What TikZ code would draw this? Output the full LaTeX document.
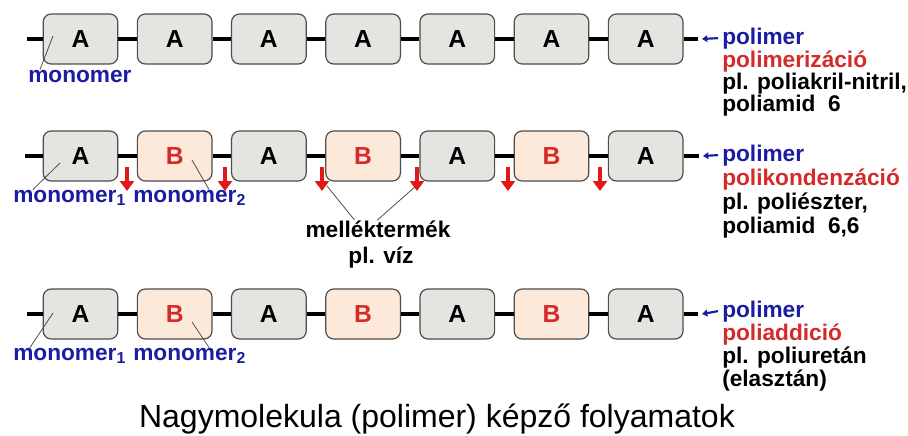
\documentclass[tikz,border=0pt]{standalone}
\usepackage{fontspec}
\setmainfont{Liberation Sans}
\usepackage{xcolor}
\usepackage{tikz}
\usetikzlibrary{arrows.meta}
\definecolor{boxgray}{HTML}{E3E5E1}
\definecolor{boxpeach}{HTML}{FDE9D9}
\definecolor{frame}{HTML}{4D4D4D}
\definecolor{mono}{HTML}{1C1CA0}
\definecolor{proc}{HTML}{D42A2A}
\definecolor{drip}{HTML}{E01818}

\begin{document}
\begin{tikzpicture}[
    x=0.75pt, y=-0.75pt,
    unit/.style={draw=frame, line width=0.9pt, rounded corners=6pt, minimum width=56pt,
                 minimum height=37.5pt, inner sep=0pt, font=\fontsize{18.5}{20}\selectfont\bfseries},
    unitA/.style={unit, fill=boxgray},
    unitB/.style={unit, fill=boxpeach, text=proc},
    link/.style={line width=2.4pt},
    drop/.style={draw=drip, line width=3.5pt, -{Triangle[width=10.5pt,length=7.5pt]}},
    ptr/.style={draw=mono, line width=1.6pt, -{Triangle[length=4pt,width=5pt]}},
    pointer/.style={draw=frame, line width=0.6pt},
    lbl/.style={anchor=base west, inner sep=0pt, font=\fontsize{17}{20}\selectfont\bfseries},
    midlbl/.style={anchor=base, inner sep=0pt, font=\fontsize{17}{20}\selectfont\bfseries}
  ]
    \useasboundingbox (0,0) rectangle (908,436);

    % polimerizacio
    \node[unitA] (m1) at (80.5,39) {A};
    \node[unitA] (m2) at (174.7,39) {A};
    \node[unitA] (m3) at (268.9,39) {A};
    \node[unitA] (m4) at (363.1,39) {A};
    \node[unitA] (m5) at (457.3,39) {A};
    \node[unitA] (m6) at (551.5,39) {A};
    \node[unitA] (m7) at (645.7,39) {A};
    \coordinate (ms) at (27,39);
    \coordinate (me) at (698,39);
    \draw[link] (ms) -- (m1) -- (m2) -- (m3) -- (m4) -- (m5) -- (m6) -- (m7) -- (me);

    \node[lbl, text=mono] (mpol) at (722,44) {polimer};
    \node[lbl, text=proc] (mproc) at (722,67) {polimerizáció};
    \node[lbl] (mex1) at (722,89) {pl. poliakril-nitril,};
    \node[lbl] (mex2) at (722,111) {poliamid~~6};
    \draw[ptr] ([xshift=-3pt]mpol.west) -- ([xshift=3pt]me);

    \node[lbl, text=mono] (mlab) at (28,82) {monomer};
    \coordinate (mtip) at (53,36);
    \draw[pointer] ([xshift=9pt]mlab.north west) -- (mtip);

    % polikondenzacio
    \node[unitA] (k1) at (80.5,156) {A};
    \node[unitB] (k2) at (174.7,156) {B};
    \node[unitA] (k3) at (268.9,156) {A};
    \node[unitB] (k4) at (363.1,156) {B};
    \node[unitA] (k5) at (457.3,156) {A};
    \node[unitB] (k6) at (551.5,156) {B};
    \node[unitA] (k7) at (645.7,156) {A};
    \coordinate (ks) at (25,156);
    \coordinate (ke) at (699,156);
    \draw[link] (ks) -- (k1) -- (k2) -- (k3) -- (k4) -- (k5) -- (k6) -- (k7) -- (ke);
    \foreach \x in {127,225,322,417,508,600}
      \draw[drop] (\x,167) -- (\x,191);

    \node[lbl, text=mono] (kpol) at (722,161) {polimer};
    \node[lbl, text=proc] (kproc) at (722,185) {polikondenzáció};
    \node[lbl] (kex1) at (722,209) {pl. poliészter,};
    \node[lbl] (kex2) at (722,233) {poliamid~~6,6};
    \draw[ptr] ([xshift=-3pt]kpol.west) -- ([xshift=3pt]ke);

    \node[lbl, text=mono] (klab1) at (13,202) {monomer\textsubscript{1}};
    \node[lbl, text=mono] (klab2) at (133,202) {monomer\textsubscript{2}};
    \coordinate (ktip1) at (60,163);
    \coordinate (ktip2) at (192,160);
    \draw[pointer] ([xshift=15pt]klab1.north west) -- (ktip1);
    \draw[pointer] (ktip2) -- ([xshift=57pt]klab2.north west);

    \node[midlbl] (mell) at (378,237) {melléktermék};
    \node[midlbl] (viz) at (381,263) {pl. víz};
    \coordinate (w1) at (327,186);
    \coordinate (w2) at (416,186);
    \draw[pointer] ([xshift=37pt]mell.north west) -- (w1);
    \draw[pointer] ([xshift=54pt]mell.north west) -- (w2);

    % poliaddicio
    \node[unitA] (d1) at (80.5,314) {A};
    \node[unitB] (d2) at (174.7,314) {B};
    \node[unitA] (d3) at (268.9,314) {A};
    \node[unitB] (d4) at (363.1,314) {B};
    \node[unitA] (d5) at (457.3,314) {A};
    \node[unitB] (d6) at (551.5,314) {B};
    \node[unitA] (d7) at (645.7,314) {A};
    \coordinate (ds) at (27,314);
    \coordinate (de) at (698,314);
    \draw[link] (ds) -- (d1) -- (d2) -- (d3) -- (d4) -- (d5) -- (d6) -- (d7) -- (de);

    \node[lbl, text=mono] (dpol) at (722,317) {polimer};
    \node[lbl, text=proc] (dproc) at (722,340) {poliaddició};
    \node[lbl] (dex1) at (722,363) {pl. poliuretán};
    \node[lbl] (dex2) at (722,386) {(elasztán)};
    \draw[ptr] ([xshift=-3pt]dpol.west) -- ([xshift=3pt]de);

    \node[lbl, text=mono] (dlab1) at (13,360) {monomer\textsubscript{1}};
    \node[lbl, text=mono] (dlab2) at (133,360) {monomer\textsubscript{2}};
    \coordinate (dtip1) at (53,313);
    \coordinate (dtip2) at (192,322);
    \draw[pointer] ([xshift=12.75pt]dlab1.north west) -- (dtip1);
    \draw[pointer] (dtip2) -- ([xshift=57pt]dlab2.north west);

    \node[anchor=base, inner sep=0pt, font=\fontsize{24}{28}\selectfont] (title) at (437,427)
      {Nagymolekula (polimer) képző folyamatok};
  \end{tikzpicture}
\end{document}
